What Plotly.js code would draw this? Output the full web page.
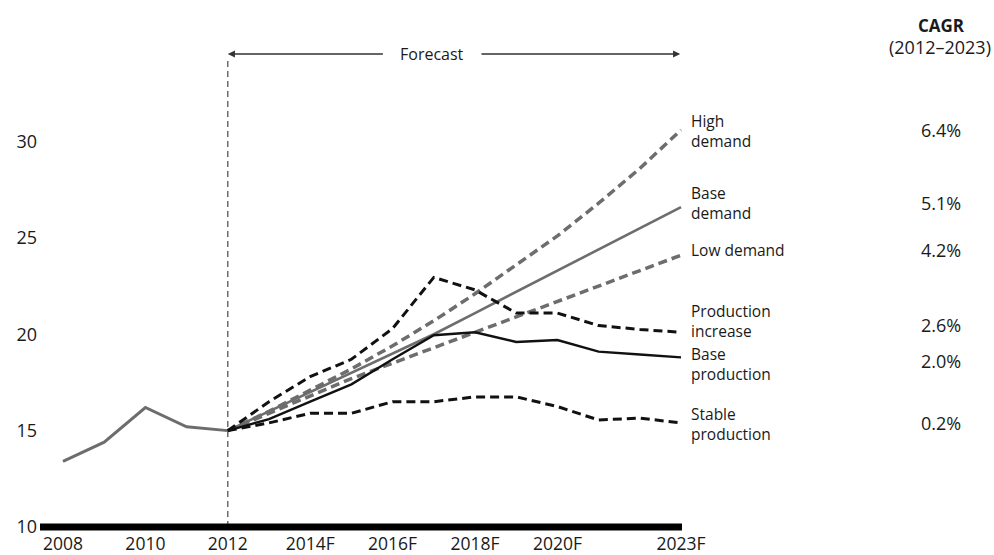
<!DOCTYPE html>
<html><head><meta charset="utf-8">
<script src="https://cdn.plot.ly/plotly-3.0.1.min.js"></script>
<style>html,body{margin:0;padding:0;background:#fff}#chart{width:994px;height:555px}</style>
</head><body><div id="chart"></div>
<script>
// ---- data ----
const histYears = [2008, 2009, 2010, 2011, 2012];
const history = [13.4, 14.4, 16.2, 15.2, 15.0];
const fcYears = [2012, 2013, 2014, 2015, 2016, 2017, 2018, 2019, 2020, 2021, 2022, 2023];
const highDemand = [15.0, 16.0, 17.1, 18.2, 19.4, 20.7, 22.1, 23.6, 25.1, 26.8, 28.6, 30.6];
const baseDemand = [15.0, 16.0, 17.0, 18.0, 19.0, 20.0, 21.1, 22.2, 23.3, 24.4, 25.5, 26.6];
const lowDemand = [15.0, 15.9, 16.8, 17.7, 18.5, 19.3, 20.1, 20.9, 21.7, 22.5, 23.3, 24.1];
const productionIncrease = [15.0, 16.5, 17.8, 18.7, 20.3, 22.95, 22.3, 21.1, 21.1, 20.45, 20.25, 20.1];
const baseProduction = [15.0, 15.6, 16.5, 17.4, 18.7, 19.95, 20.1, 19.6, 19.7, 19.1, 18.95, 18.8];
const stableProduction = [15.0, 15.4, 15.9, 15.9, 16.5, 16.5, 16.75, 16.75, 16.25, 15.55, 15.65, 15.4];
const scenarioLabels = ["High<br>demand", "Base<br>demand", "Low demand", "Production<br>increase", "Base<br>production", "Stable<br>production"];
const cagrValues = ["6.4%", "5.1%", "4.2%", "2.6%", "2.0%", "0.2%"];
const cagrTitle = "CAGR";
const cagrPeriod = "(2012–2023)";
const forecastLabel = "Forecast";
const xTickVals = [2008, 2010, 2012, 2014, 2016, 2018, 2020, 2023];
const xTickText = ["2008", "2010", "2012", "2014F", "2016F", "2018F", "2020F", "2023F"];
const yTickVals = [10, 15, 20, 25, 30];

// ---- layout geometry ----
const L = 40, T = 40, W = 642, H = 491, FIG_W = 994, FIG_H = 555;
const XMIN = 2007.442, XMAX = 2023.024, YMIN = 9.7925, YMAX = 35.266;
const px2x = px => (px - L) / W;           // paper x
const py2y = py => (T + H - py) / H;       // paper y
const py2d = py => YMIN + (T + H - py) / H * (YMAX - YMIN); // data y

const GRAY = '#6d6d6d', BLACK = '#111111', TXT = '#1a1a1a';
const FONT = '"Open Sans", "Noto Sans", sans-serif';

function line(x, y, color, width, dash) {
  return {x: x, y: y, type: 'scatter', mode: 'lines', hoverinfo: 'skip',
    line: {color: color, width: width, dash: dash || 'solid'}, showlegend: false};
}

const traces = [
  line(histYears, history, GRAY, 3),
  line(fcYears, highDemand, GRAY, 3.5, '9px,5px'),
  line(fcYears, lowDemand, GRAY, 3.5, '9px,5px'),
  line(fcYears, baseDemand, GRAY, 2.6),
  line(fcYears, stableProduction, BLACK, 3, '9px,5px'),
  line(fcYears, productionIncrease, BLACK, 3, '9px,5px'),
  line(fcYears, baseProduction, BLACK, 2.4)
];

// label block pixel centres
const labelPx = [131, 203, 250, 321, 364, 424];
const cagrPx = [130, 203, 250, 325, 361, 423];

const annotations = [];
scenarioLabels.forEach((t, i) => {
  annotations.push({xref: 'paper', yref: 'paper', x: px2x(689), y: py2y(labelPx[i]),
    xanchor: 'left', yanchor: 'middle', align: 'left', text: t, showarrow: false,
    font: {family: FONT, size: 15.5, color: TXT}});
  annotations.push({xref: 'paper', yref: 'paper', x: px2x(941), y: py2y(cagrPx[i]),
    xanchor: 'center', yanchor: 'middle', text: cagrValues[i], showarrow: false,
    font: {family: FONT, size: 18, color: TXT}});
});
annotations.push({xref: 'paper', yref: 'paper', x: px2x(941), y: py2y(25),
  xanchor: 'center', yanchor: 'middle', text: '<b>' + cagrTitle + '</b>', showarrow: false,
  font: {family: FONT, size: 17, color: TXT}});
annotations.push({xref: 'paper', yref: 'paper', x: px2x(940), y: py2y(47),
  xanchor: 'center', yanchor: 'middle', text: cagrPeriod, showarrow: false,
  font: {family: FONT, size: 18, color: TXT}});
// Forecast label and arrows
const yArrow = py2d(54);
annotations.push({xref: 'x', yref: 'y', x: 2015.8 + (2018.12 - 2015.8) / 2, y: yArrow,
  xanchor: 'center', yanchor: 'middle', text: forecastLabel, showarrow: false,
  font: {family: FONT, size: 16, color: TXT}});
annotations.push({xref: 'x', yref: 'y', x: 2012, y: yArrow, axref: 'x', ayref: 'y', ax: 2015.8, ay: yArrow,
  text: '', showarrow: true, arrowhead: 2, arrowsize: 1.1, arrowwidth: 1.3, arrowcolor: '#333', standoff: 0});
annotations.push({xref: 'x', yref: 'y', x: 2022.98, y: yArrow, axref: 'x', ayref: 'y', ax: 2018.12, ay: yArrow,
  text: '', showarrow: true, arrowhead: 2, arrowsize: 1.1, arrowwidth: 1.3, arrowcolor: '#333', standoff: 0});

const shapes = [
  {type: 'line', xref: 'x', yref: 'y', x0: 2012, x1: 2012, y0: 10, y1: py2d(60),
    line: {color: '#555', width: 1.3, dash: '6px,4px'}, layer: 'below'},
  {type: 'line', xref: 'x', yref: 'y', x0: XMIN, x1: XMAX, y0: 10, y1: 10,
    line: {color: '#000', width: 7}, layer: 'above'}
];

const layout = {
  width: FIG_W, height: FIG_H,
  margin: {l: L, r: FIG_W - L - W, t: T, b: FIG_H - T - H, pad: 0},
  paper_bgcolor: '#fff', plot_bgcolor: '#fff',
  font: {family: FONT, color: TXT},
  showlegend: false,
  xaxis: {range: [XMIN, XMAX], tickvals: xTickVals, ticktext: xTickText, showgrid: false,
    zeroline: false, showline: false, ticks: '', automargin: false,
    tickfont: {family: FONT, size: 17.5, color: TXT}, ticklabelstandoff: 0},
  yaxis: {range: [YMIN, YMAX], tickvals: yTickVals, showgrid: false, zeroline: false,
    showline: false, ticks: '', automargin: false,
    tickfont: {family: FONT, size: 18, color: TXT}, ticklabelstandoff: 2},
  annotations: annotations,
  shapes: shapes
};

Plotly.newPlot('chart', traces, layout, {staticPlot: true, displayModeBar: false});
</script>
</body></html>
